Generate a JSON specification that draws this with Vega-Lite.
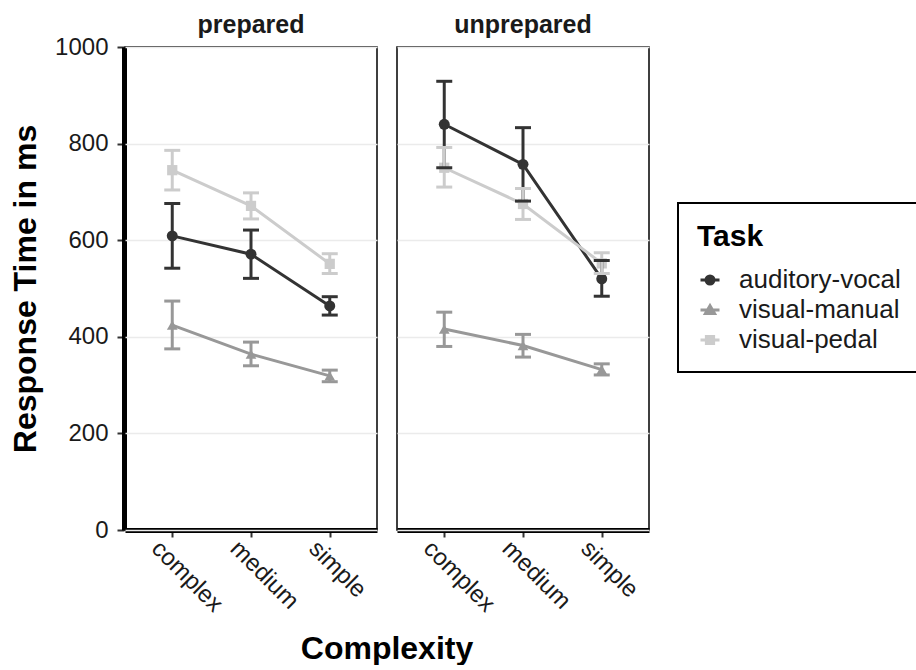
{
  "$schema": "https://vega.github.io/schema/vega-lite/v6.json",
  "padding": {"left": 9, "top": 13, "right": 0, "bottom": 0},
  "background": "white",
  "data": {"values": [
    {"prep": "prepared", "complexity": "complex", "task": "auditory-vocal", "rt": 609, "lo": 542, "hi": 676},
    {"prep": "prepared", "complexity": "medium", "task": "auditory-vocal", "rt": 571, "lo": 521, "hi": 621},
    {"prep": "prepared", "complexity": "simple", "task": "auditory-vocal", "rt": 464, "lo": 445, "hi": 483},
    {"prep": "unprepared", "complexity": "complex", "task": "auditory-vocal", "rt": 840, "lo": 750, "hi": 929},
    {"prep": "unprepared", "complexity": "medium", "task": "auditory-vocal", "rt": 757, "lo": 681, "hi": 833},
    {"prep": "unprepared", "complexity": "simple", "task": "auditory-vocal", "rt": 520, "lo": 484, "hi": 558},
    {"prep": "prepared", "complexity": "complex", "task": "visual-manual", "rt": 424, "lo": 375, "hi": 474},
    {"prep": "prepared", "complexity": "medium", "task": "visual-manual", "rt": 364, "lo": 340, "hi": 389},
    {"prep": "prepared", "complexity": "simple", "task": "visual-manual", "rt": 319, "lo": 307, "hi": 331},
    {"prep": "unprepared", "complexity": "complex", "task": "visual-manual", "rt": 416, "lo": 380, "hi": 451},
    {"prep": "unprepared", "complexity": "medium", "task": "visual-manual", "rt": 382, "lo": 358, "hi": 405},
    {"prep": "unprepared", "complexity": "simple", "task": "visual-manual", "rt": 332, "lo": 321, "hi": 344},
    {"prep": "prepared", "complexity": "complex", "task": "visual-pedal", "rt": 745, "lo": 704, "hi": 786},
    {"prep": "prepared", "complexity": "medium", "task": "visual-pedal", "rt": 671, "lo": 644, "hi": 698},
    {"prep": "prepared", "complexity": "simple", "task": "visual-pedal", "rt": 551, "lo": 531, "hi": 572},
    {"prep": "unprepared", "complexity": "complex", "task": "visual-pedal", "rt": 750, "lo": 710, "hi": 792},
    {"prep": "unprepared", "complexity": "medium", "task": "visual-pedal", "rt": 675, "lo": 643, "hi": 707},
    {"prep": "unprepared", "complexity": "simple", "task": "visual-pedal", "rt": 552, "lo": 531, "hi": 574}
  ]},
  "facet": {
    "column": {
      "field": "prep", "type": "nominal",
      "header": {
        "title": "Complexity", "titleOrient": "bottom", "labelOrient": "top",
        "titleFontSize": 32, "titleFontWeight": "bold", "titleColor": "#000000", "titleFont": "Liberation Sans", "titlePadding": 7,
        "labelFontSize": 25, "labelFontWeight": "bold", "labelColor": "#1a1a1a", "labelPadding": 8, "labelFont": "Liberation Sans"
      }
    }
  },
  "spacing": 18,
  "spec": {
    "width": 252,
    "height": 483,
    "encoding": {
      "x": {
        "field": "complexity", "type": "nominal",
        "sort": ["complex", "medium", "simple"],
        "scale": {"type": "point", "padding": 0.6},
        "title": null,
        "axis": {"labelAngle": 45, "labelAlign": "left", "labelBaseline": "top", "labelPadding": -1, "labelOffset": -9, "offset": -1}
      },
      "color": {
        "field": "task", "type": "nominal",
        "scale": {"domain": ["auditory-vocal", "visual-manual", "visual-pedal"], "range": ["#333333", "#989898", "#cccccc"]},
        "title": "Task",
        "legend": {
          "orient": "none", "legendX": 553, "legendY": 156, "labelLimit": 400,
          "encode": {
            "symbols": {"update": {
              "shape": {"signal": "datum.value === 'auditory-vocal' ? 'M-1,0L1,0M0.42,0A0.42,0.42,0,1,1,-0.42,0A0.42,0.42,0,1,1,0.42,0Z' : datum.value === 'visual-manual' ? 'M-1,0L1,0M0,-0.45L0.48,0.38L-0.48,0.38Z' : 'M-1,0L1,0M-0.38,-0.38L0.38,-0.38L0.38,0.38L-0.38,0.38Z'"},
              "stroke": {"scale": "color", "field": "value"},
              "fill": {"scale": "color", "field": "value"},
              "strokeWidth": {"value": 3},
              "opacity": {"value": 1}
            }}
          }
        }
      }
    },
    "layer": [
      {
        "mark": {"type": "line", "strokeWidth": 3},
        "encoding": {
          "y": {"field": "rt", "type": "quantitative", "scale": {"domain": [0, 1000], "nice": false}, "title": "Response Time in ms",
                "axis": {"values": [0, 200, 400, 600, 800, 1000], "format": "d"}}
        }
      },
      {
        "transform": [{"filter": "datum.task === 'auditory-vocal'"}],
        "mark": {"type": "point", "shape": "circle", "filled": true, "size": 120, "opacity": 1},
        "encoding": {"y": {"field": "rt", "type": "quantitative", "title": "Response Time in ms"}}
      },
      {
        "transform": [{"filter": "datum.task === 'visual-manual'"}],
        "mark": {"type": "point", "shape": "triangle-up", "filled": true, "size": 115, "opacity": 1},
        "encoding": {"y": {"field": "rt", "type": "quantitative", "title": "Response Time in ms"}}
      },
      {
        "transform": [{"filter": "datum.task === 'visual-pedal'"}],
        "mark": {"type": "point", "shape": "square", "filled": true, "size": 105, "opacity": 1},
        "encoding": {"y": {"field": "rt", "type": "quantitative", "title": "Response Time in ms"}}
      },
      {
        "mark": {"type": "rule", "strokeWidth": 3},
        "encoding": {
          "y": {"field": "lo", "type": "quantitative", "title": "Response Time in ms"},
          "y2": {"field": "hi"}
        }
      },
      {
        "mark": {"type": "tick", "thickness": 3, "size": 16, "opacity": 1},
        "encoding": {"y": {"field": "lo", "type": "quantitative", "title": "Response Time in ms"}}
      },
      {
        "mark": {"type": "tick", "thickness": 3, "size": 16, "opacity": 1},
        "encoding": {"y": {"field": "hi", "type": "quantitative", "title": "Response Time in ms"}}
      }
    ]
  },
  "config": {
    "font": "Liberation Sans",
    "view": {"stroke": "#000000", "strokeWidth": 1.5},
    "axis": {
      "labelFontSize": 24, "labelColor": "#1a1a1a", "labelFont": "Liberation Sans",
      "titleFontSize": 32, "titleFontWeight": "bold", "titleColor": "#000000", "titleFont": "Liberation Sans",
      "tickColor": "#333333", "tickWidth": 2, "tickSize": 7,
      "domainColor": "#000000", "domainWidth": 5,
      "grid": false
    },
    "axisY": {"grid": true, "gridColor": "#ebebeb", "gridWidth": 1.5, "labelPadding": 9, "titlePadding": 12},
    "legend": {
      "titleFontSize": 30, "titleFontWeight": "bold", "titleColor": "#000000", "titleFont": "Liberation Sans",
      "labelFontSize": 26, "labelColor": "#1a1a1a", "labelFont": "Liberation Sans",
      "strokeColor": "#000000", "strokeWidth": 2, "padding": 19,
      "symbolSize": 361, "rowPadding": 4, "titlePadding": 15, "labelOffset": 16
    }
  }
}
